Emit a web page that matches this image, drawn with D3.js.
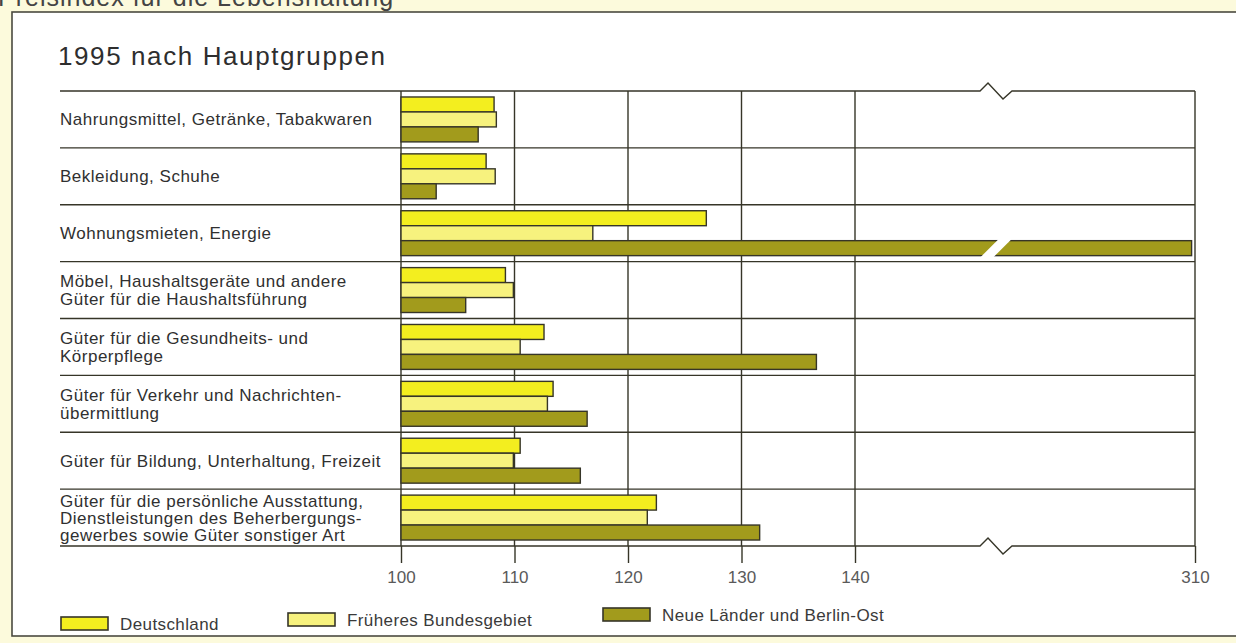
<!DOCTYPE html>
<html>
<head>
<meta charset="utf-8">
<script src="https://cdn.jsdelivr.net/npm/d3@7"></script>
<style>
  body { margin: 0; background: #fcfadc; }
  svg { display: block; font-family: "Liberation Sans", Arial, sans-serif; }
</style>
</head>
<body>
<svg id="chart" width="1236" height="643"></svg>
<script>
// categories (label lines), top to bottom
let categories = [
  ["Nahrungsmittel, Getränke, Tabakwaren"],
  ["Bekleidung, Schuhe"],
  ["Wohnungsmieten, Energie"],
  ["Möbel, Haushaltsgeräte und andere", "Güter für die Haushaltsführung"],
  ["Güter für die Gesundheits- und", "Körperpflege"],
  ["Güter für Verkehr und Nachrichten-", "übermittlung"],
  ["Güter für Bildung, Unterhaltung, Freizeit"],
  ["Güter für die persönliche Ausstattung,", "Dienstleistungen des Beherbergungs-", "gewerbes sowie Güter sonstiger Art"]
];
let seriesNames = ["Deutschland", "Früheres Bundesgebiet", "Neue Länder und Berlin-Ost"];
let deutschland = [108.2, 107.5, 126.9, 109.2, 112.6, 113.4, 110.5, 122.5];
let frueheres   = [108.4, 108.3, 116.9, 109.9, 110.5, 112.9, 109.9, 121.7];
let neueLaender = [106.8, 103.1, 308.3, 105.7, 136.6, 116.4, 115.8, 131.6];
let tickValues = [100, 110, 120, 130, 140, 310];

let colors = ["#f3ee1f", "#f7f27e", "#a29b1c"];
let ink = "#363528";

let svg = d3.select("#chart");

// top caption, mostly cut off by the page edge
svg.append("text")
  .attr("x", -2).attr("y", 6)
  .attr("font-size", 25).attr("fill", "#444")
  .attr("letter-spacing", 1)
  .text("Preisindex für die Lebenshaltung");

// white panel
svg.append("rect")
  .attr("x", 12).attr("y", 12)
  .attr("width", 1240).attr("height", 624)
  .attr("fill", "#ffffff")
  .attr("stroke", "#4a4a40").attr("stroke-width", 1.6);

svg.append("text")
  .attr("x", 58).attr("y", 65)
  .attr("font-size", 26).attr("fill", "#2e2e2e")
  .attr("letter-spacing", 1.6)
  .text("1995 nach Hauptgruppen");

let x = d3.scaleLinear()
  .domain([100, 140, 310])
  .range([401, 855, 1195]);

let y = d3.scaleBand()
  .domain(d3.range(categories.length))
  .range([91, 546])
  .padding(0);

let ySeries = d3.scaleBand()
  .domain(d3.range(3))
  .range([0, y.bandwidth()])
  .paddingInner(0)
  .paddingOuter(0.4);

let left = 60;
let breakX = 996;

// vertical grid lines
svg.append("g")
  .selectAll("line")
  .data(tickValues)
  .enter()
  .append("line")
    .attr("x1", d => x(d)).attr("x2", d => x(d))
    .attr("y1", y.range()[0]).attr("y2", y.range()[1])
    .attr("stroke", ink).attr("stroke-width", 1.4);

// inner row lines
let rowEdges = d3.range(1, categories.length).map(i => y(i));
svg.append("g")
  .selectAll("line")
  .data(rowEdges)
  .enter()
  .append("line")
    .attr("x1", left).attr("x2", x(310))
    .attr("y1", d => d).attr("y2", d => d)
    .attr("stroke", ink).attr("stroke-width", 1.4);

// top and bottom lines with break zigzag
function zigzagLine(yy) {
  return d3.line()([
    [left, yy], [breakX - 16, yy], [breakX - 8, yy - 8],
    [breakX + 7, yy + 8], [breakX + 16, yy], [x(310), yy]
  ]);
}
svg.append("g")
  .selectAll("path")
  .data(y.range())
  .enter()
  .append("path")
    .attr("d", d => zigzagLine(d))
    .attr("fill", "none")
    .attr("stroke", ink).attr("stroke-width", 1.4);

// bars
let seriesValues = [deutschland, frueheres, neueLaender];
let bars = svg.append("g");
seriesValues.forEach(function(vals, s) {
  bars.selectAll(".bar-" + s)
    .data(vals)
    .enter()
    .append("rect")
      .attr("class", "bar-" + s)
      .attr("x", x(100))
      .attr("y", (d, i) => y(i) + ySeries(s))
      .attr("width", d => x(d) - x(100))
      .attr("height", ySeries.bandwidth())
      .attr("fill", colors[s])
      .attr("stroke", ink).attr("stroke-width", 1.4);
});

// white slash through the broken bar
neueLaender.forEach(function(v, i) {
  if (v > 140) {
    let top = y(i) + ySeries(2) - 3;
    let bot = y(i) + ySeries(2) + ySeries.bandwidth() + 2;
    svg.append("path")
      .attr("d", d3.line()([
        [breakX - 16, bot], [breakX - 3, bot],
        [breakX + 17, top], [breakX + 4, top]
      ]) + "Z")
      .attr("fill", "#ffffff");
  }
});

// category labels
let labels = svg.append("g");
categories.forEach(function(lines, i) {
  let cy = y(i) + y.bandwidth() / 2;
  let lh = lines.length > 2 ? 17 : 18;
  let t = labels.append("text")
    .attr("font-size", 17).attr("fill", "#303030")
    .attr("letter-spacing", 0.5);
  lines.forEach(function(line, j) {
    t.append("tspan")
      .attr("x", left)
      .attr("y", cy + (j - (lines.length - 1) / 2) * lh)
      .attr("dy", "0.35em")
      .text(line);
  });
});

// x axis
let axis = svg.append("g")
  .attr("transform", "translate(0," + y.range()[1] + ")")
  .call(d3.axisBottom(x).tickValues(tickValues).tickSize(17).tickPadding(8).tickFormat(d3.format("d")));
axis.select(".domain").remove();
axis.selectAll(".tick line").attr("stroke", ink).attr("stroke-width", 1.4);
axis.selectAll(".tick text")
  .attr("font-size", 17).attr("fill", "#5a5a5a")
  .attr("font-family", "Liberation Sans, Arial, sans-serif");

// legend
let legendPos = [[61, 617], [288, 613], [603, 608]];
let legend = svg.append("g");
seriesNames.forEach(function(name, s) {
  let p = legendPos[s];
  legend.append("rect")
    .attr("x", p[0]).attr("y", p[1])
    .attr("width", 47).attr("height", 13)
    .attr("fill", colors[s])
    .attr("stroke", ink).attr("stroke-width", 1.6);
  legend.append("text")
    .attr("x", p[0] + 59).attr("y", p[1] + 7)
    .attr("dy", "0.35em")
    .attr("font-size", 17).attr("fill", "#3a3a3a")
    .attr("letter-spacing", 0.4)
    .text(name);
});
</script>
</body>
</html>
